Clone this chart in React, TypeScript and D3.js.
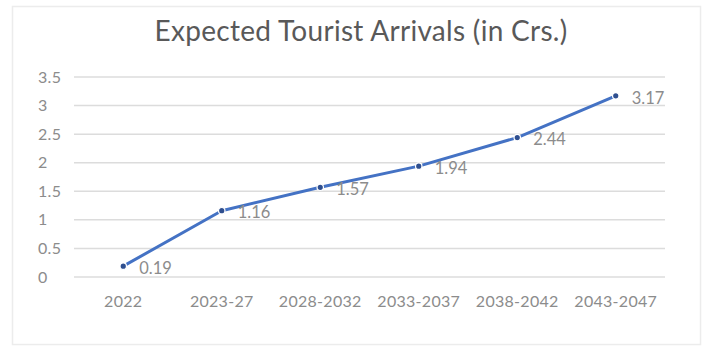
import React from "react";
import * as d3 from "d3";

const categories = ["2022", "2023-27", "2028-2032", "2033-2037", "2038-2042", "2043-2047"];
const values = [0.19, 1.16, 1.57, 1.94, 2.44, 3.17];
const yTicks = [0, 0.5, 1, 1.5, 2, 2.5, 3, 3.5];
const title = "Expected Tourist Arrivals (in Crs.)";

const W = 709;
const H = 351;
const plot = { left: 74, right: 665, top: 77, bottom: 277 };
const FONT = "Lato, 'Open Sans', sans-serif";

export default function App() {
  const x = d3.scalePoint<string>().domain(categories).range([plot.left, plot.right]).padding(0.5);
  const y = d3.scaleLinear().domain([0, 3.5]).range([plot.bottom, plot.top]);
  const line = d3
    .line<number>()
    .x((_, i) => x(categories[i]) as number)
    .y((d) => y(d));

  return (
    <svg
      width={W}
      height={H}
      style={{ position: "absolute", left: 0, top: 0, background: "#fff" }}
      fontFamily={FONT}
    >
      <rect x={12.5} y={6.5} width={688} height={338} fill="#fff" stroke="#ececec" strokeWidth={1.5} />
      <text x={361} y={41} textAnchor="middle" fontSize={28} fill="#595959" letterSpacing={0.3}>
        {title}
      </text>
      {yTicks.map((t) => (
        <g key={t}>
          <line x1={plot.left} x2={plot.right} y1={y(t)} y2={y(t)} stroke="#dcdcdc" strokeWidth={1.5} />
          <text x={38} y={y(t)} dy="0.35em" fontSize={16} fill="#8c8c8c" letterSpacing={0.3}>
            {t}
          </text>
        </g>
      ))}
      {categories.map((c) => (
        <text key={c} x={x(c)} y={307} textAnchor="middle" fontSize={16} fill="#8c8c8c" letterSpacing={0.3}>
          {c}
        </text>
      ))}
      <path d={line(values) || ""} fill="none" stroke="#4472C4" strokeWidth={3} strokeLinejoin="round" />
      {values.map((v, i) => (
        <g key={i}>
          <circle cx={x(categories[i])} cy={y(v)} r={3.2} fill="#2F4F8F" stroke="#fff" strokeWidth={1.2} />
          <text x={(x(categories[i]) as number) + 16} y={y(v) + 2} dy="0.35em" fontSize={16.5} fill="#8c8c8c">
            {v.toFixed(2)}
          </text>
        </g>
      ))}
    </svg>
  );
}
